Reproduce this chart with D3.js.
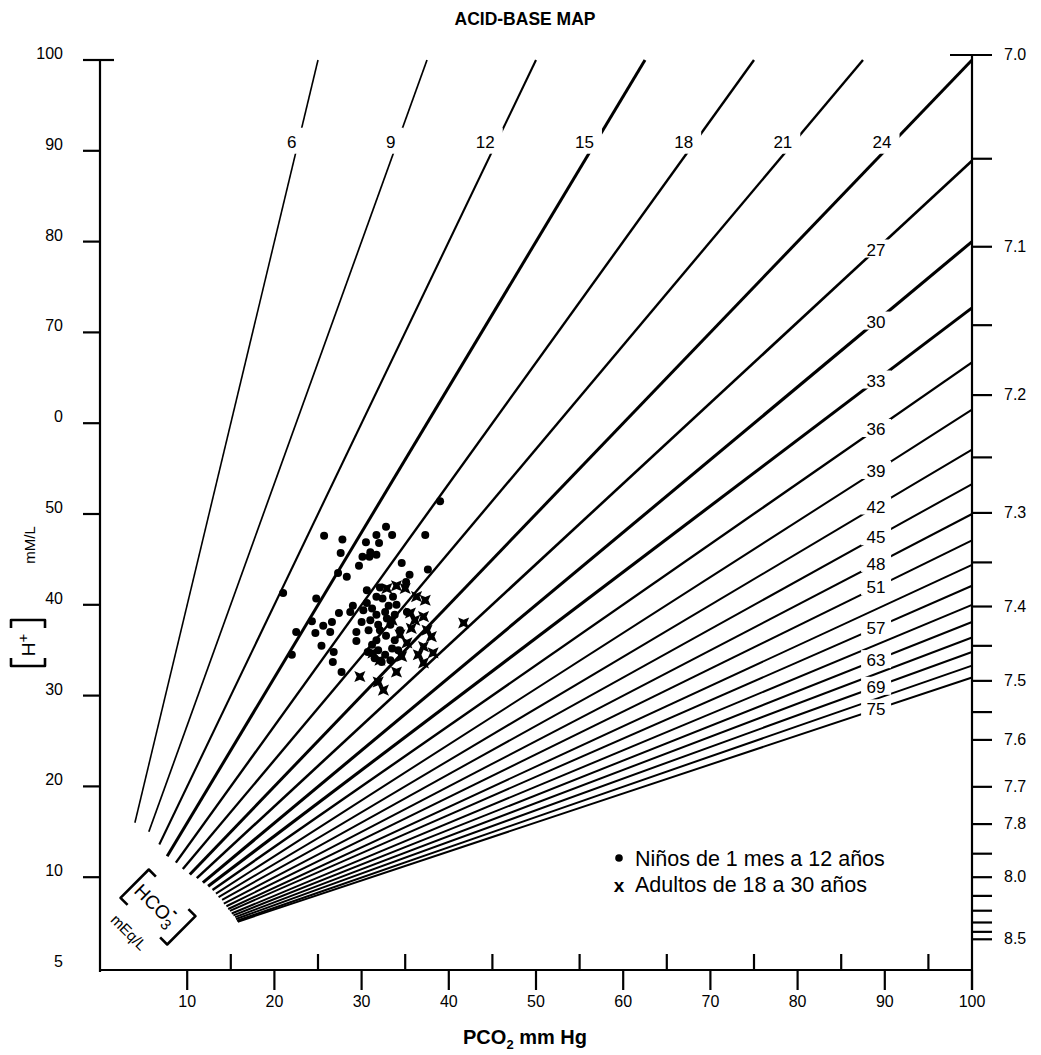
<!DOCTYPE html>
<html>
<head>
<meta charset="utf-8">
<script src="https://cdn.jsdelivr.net/npm/d3@7"></script>
<style>
  body { margin: 0; background: #fff; }
  text { font-family: "Liberation Sans", Arial, sans-serif; fill: #000; }
</style>
</head>
<body>
<script>
// HCO3 isopleths (mEq/L); start and end of each line as [PCO2, H+]
const hco3 = [6, 9, 12, 15, 18, 21, 24, 27, 30, 33, 36, 39, 42, 45, 48, 51, 54, 57, 60, 63, 66, 69, 72, 75];
const lineStart = [[4.0,16.0],[5.6,15.0],[6.8,13.6],[7.7,12.3],[8.7,11.6],[9.5,10.9],[10.3,10.3],[11.1,9.9],
  [11.8,9.4],[12.4,9.0],[12.9,8.6],[13.3,8.2],[13.6,7.8],[14.0,7.5],[14.2,7.1],[14.5,6.8],[14.7,6.5],
  [14.9,6.3],[15.1,6.0],[15.3,5.8],[15.5,5.6],[15.6,5.4],[15.7,5.2],[15.8,5.1]];
const lineEnd = [[25,100],[37.5,100],[50,100],[62.5,100],[75,100],[87.5,100],[100,100],[100,88.9],
  [100,80],[100,72.7],[100,66.7],[100,61.5],[100,57.1],[100,53.3],[100,50],[100,47.1],[100,44.4],
  [100,42.1],[100,40],[100,38.1],[100,36.4],[100,34.8],[100,33.3],[100,32]];
const labelledTop = [6, 9, 12, 15, 18, 21, 24];
const labelledRight = [27, 30, 33, 36, 39, 42, 45, 48, 51, 57, 63, 69, 75];
const strokeW = {6: 1.6, 9: 1.7, 12: 2.1, 15: 3, 18: 2.4, 21: 2.4, 24: 3, 27: 2.6, 30: 3.1, 33: 3.1, 36: 2.4};

// Niños de 1 mes a 12 años  [PCO2, H+]
const ninos = [[39.0,51.4],[32.8,48.6],[33.5,47.7],[25.7,47.6],[27.8,47.2],[31.7,47.7],[30.5,46.9],[32.0,46.8],
  [37.3,47.7],[27.6,45.7],[31.0,45.8],[31.7,45.5],[30.1,45.3],[30.9,45.3],[29.7,44.3],[34.6,44.6],[37.6,43.9],
  [27.3,43.5],[28.3,43.1],[35.5,43.3],[35.1,42.5],[21.0,41.3],[30.6,41.6],[24.8,40.7],[31.7,40.9],[32.4,40.7],
  [33.6,40.9],[29.0,39.9],[30.6,40.2],[33.1,39.9],[34.0,40.0],[27.4,39.1],[28.7,39.2],[30.2,39.4],[31.7,38.9],
  [35.2,39.2],[24.3,38.2],[26.6,38.1],[25.6,37.7],[22.5,37.0],[26.4,37.0],[24.7,36.9],[29.4,37.0],[30.8,37.2],
  [31.9,37.8],[32.9,38.5],[25.4,35.5],[29.4,36.0],[26.8,34.8],[22.0,34.5],[26.7,33.7],[27.7,32.6],[31.2,35.6],
  [31.9,35.0],[32.7,34.5],[33.5,35.2],[31.5,34.1],[32.3,33.7],[30.7,34.8],[33.3,33.9],[34.2,35.0],[33.8,36.1],
  [32.8,36.6],[31.7,36.1],[32.1,37.2],[33.3,37.8],[34.4,37.2],[33.8,38.9],[32.7,39.2],[31.0,38.3],[30.0,38.1],
  [31.2,39.6],[32.1,41.9]];
// Adultos de 18 a 30 años
const adultos = [[32.9,41.8],[34.0,42.1],[35.0,41.8],[36.3,40.9],[37.3,40.5],[41.7,38.0],[37.1,38.7],[35.6,39.1],
  [35.7,37.4],[37.5,37.2],[38.0,36.5],[34.4,36.7],[35.2,35.8],[37.1,35.4],[38.2,34.7],[34.6,34.3],[37.1,33.6],
  [34.0,32.6],[29.8,32.1],[31.9,31.5],[32.5,30.6],[31.3,34.7],[32.1,33.9],[36.1,38.3],[33.5,38.3],[36.5,34.5]];

const xTicks = [10, 20, 30, 40, 50, 60, 70, 80, 90, 100];
const xMinor = [15, 25, 35, 45, 55, 65, 75, 85, 95];
const yTicks = [0, 10, 20, 30, 40, 50, 60, 70, 80, 90, 100];
const yTickLabels = ["5", "10", "20", "30", "40", "50", "0", "70", "80", "90", "100"];
const phTicks = [7.0, 7.05, 7.1, 7.15, 7.2, 7.25, 7.3, 7.35, 7.4, 7.45, 7.5, 7.55, 7.6, 7.7, 7.8, 7.9, 8.0, 8.1, 8.2, 8.3, 8.4, 8.5];
const phLabelled = [7.0, 7.1, 7.2, 7.3, 7.4, 7.5, 7.6, 7.7, 7.8, 8.0, 8.5];

const W = 1041, H = 1055;
const svg = d3.select("body").append("svg").attr("width", W).attr("height", H);

const x = d3.scaleLinear().domain([0, 100]).range([100, 972]);
const y = d3.scaleLinear().domain([0, 100]).range([968, 60]);
const ink = "#000";
const axisY = 970;

// isopleth lines
const line = d3.line().x(d => x(d[0])).y(d => y(d[1]));
const lines = svg.append("g");
hco3.forEach((c, i) => {
  lines.append("path")
    .attr("d", line([lineStart[i], lineEnd[i]]))
    .attr("fill", "none")
    .attr("stroke", ink)
    .attr("stroke-width", strokeW[c] || 2);
});

// point on a line at given H or given PCO2
function atH(i, h) {
  const a = lineStart[i], b = lineEnd[i];
  const t = (h - a[1]) / (b[1] - a[1]);
  return [a[0] + t * (b[0] - a[0]), h];
}
function atP(i, p) {
  const a = lineStart[i], b = lineEnd[i];
  const t = (p - a[0]) / (b[0] - a[0]);
  return [p, a[1] + t * (b[1] - a[1])];
}

// line labels with white gap
const labs = svg.append("g").style("font-size", "17px");
labelledTop.forEach(c => {
  const i = hco3.indexOf(c);
  const p = atH(i, 91);
  const px = x(p[0]), py = y(p[1]);
  const w = String(c).length * 9.5;
  labs.append("rect").attr("x", px - w - 4).attr("y", py - 14).attr("width", w + 10).attr("height", 26).attr("fill", "#fff");
  labs.append("text").attr("x", px - 2).attr("y", py + 6).attr("text-anchor", "end").text(c);
});
labelledRight.forEach(c => {
  const i = hco3.indexOf(c);
  const p = atP(i, 89.0);
  const px = x(p[0]), py = y(p[1]);
  labs.append("rect").attr("x", px - 15).attr("y", py - 10).attr("width", 30).attr("height", 18).attr("fill", "#fff");
  labs.append("text").attr("x", px).attr("y", py + 6).attr("text-anchor", "middle").text(c);
});

// scatter
svg.append("g").selectAll("circle")
  .data(ninos).join("circle")
  .attr("cx", d => x(d[0])).attr("cy", d => y(d[1]))
  .attr("r", 4).attr("fill", ink);

const star4 = {
  draw(ctx, size) {
    const r = Math.sqrt(size) * 0.75, ri = r * 0.4;
    for (let k = 0; k < 8; k++) {
      const a = Math.PI / 4 + k * Math.PI / 4;
      const rr = k % 2 ? ri : r;
      const px = rr * Math.cos(a), py = rr * Math.sin(a);
      if (k === 0) ctx.moveTo(px, py); else ctx.lineTo(px, py);
    }
    ctx.closePath();
  }
};
svg.append("g").selectAll("path")
  .data(adultos).join("path")
  .attr("d", d3.symbol().type(star4).size(110))
  .attr("transform", d => `translate(${x(d[0])},${y(d[1])})`)
  .attr("fill", ink);

// axes frame
const frame = svg.append("g").attr("stroke", ink).attr("stroke-width", 2.2).attr("fill", "none");
frame.append("line").attr("x1", x(0)).attr("x2", x(0)).attr("y1", y(100)).attr("y2", axisY + 2);
frame.append("line").attr("x1", x(0) - 1).attr("x2", x(100) + 1).attr("y1", axisY).attr("y2", axisY);
frame.append("line").attr("x1", x(100)).attr("x2", x(100)).attr("y1", y(100) - 6).attr("y2", axisY + 20);

// bottom ticks
xTicks.forEach(v => frame.append("line").attr("x1", x(v)).attr("x2", x(v)).attr("y1", axisY).attr("y2", axisY + 20));
xMinor.forEach(v => frame.append("line").attr("x1", x(v)).attr("x2", x(v)).attr("y1", axisY).attr("y2", axisY - 16));
svg.append("g").style("font-size", "16px").selectAll("text")
  .data(xTicks).join("text")
  .attr("x", d => x(d)).attr("y", axisY + 37)
  .attr("text-anchor", "middle").text(d => d);

// left ticks
yTicks.forEach(v => {
  if (v === 0) return;
  frame.append("line").attr("x1", x(0) - 17).attr("x2", v === 100 ? x(0) + 14 : x(0)).attr("y1", y(v)).attr("y2", y(v));
});
svg.append("g").style("font-size", "16px").selectAll("text")
  .data(yTicks).join("text")
  .attr("x", 63).attr("y", d => y(d) - 1)
  .attr("text-anchor", "end").text((d, i) => yTickLabels[i]);

// right pH ticks
const yPh = ph => y(Math.pow(10, 9 - ph));
phTicks.forEach(ph => {
  const yy = yPh(ph) - (ph === 7.0 ? 5 : 0);
  frame.append("line").attr("x1", ph === 7.0 ? x(100) - 22 : x(100)).attr("x2", x(100) + 20)
    .attr("y1", yy).attr("y2", yy);
});
svg.append("g").style("font-size", "16px").selectAll("text")
  .data(phLabelled).join("text")
  .attr("x", 1004).attr("y", d => yPh(d) + (d === 7.0 ? 0 : 5))
  .text(d => d.toFixed(1));

// titles
svg.append("text").attr("x", 525).attr("y", 25).attr("text-anchor", "middle")
  .style("font-size", "17.5px").style("font-weight", "bold").text("ACID-BASE MAP");
const xl = svg.append("text").attr("x", 525).attr("y", 1044).attr("text-anchor", "middle")
  .style("font-size", "20px").style("font-weight", "bold");
xl.append("tspan").text("PCO");
xl.append("tspan").attr("dy", 5).style("font-size", "13px").text("2");
xl.append("tspan").attr("dy", -5).text(" mm Hg");

// bracket box helper
function bracketBox(g, w, h, s) {
  g.append("path")
    .attr("d", `M${-w/2 + s},${-h/2} H${-w/2} V${h/2} H${-w/2 + s} M${w/2 - s},${-h/2} H${w/2} V${h/2} H${w/2 - s}`)
    .attr("fill", "none").attr("stroke", ink).attr("stroke-width", 2.6).attr("stroke-linejoin", "round");
}

// y axis label
const hg = svg.append("g").attr("transform", "translate(28,643) rotate(-90)");
bracketBox(hg, 46, 34, 8);
const ht = hg.append("text").attr("x", -2).attr("y", 7).attr("text-anchor", "middle").style("font-size", "19px");
ht.append("tspan").text("H");
ht.append("tspan").attr("dy", -7).style("font-size", "15px").text("+");
svg.append("text").attr("transform", "translate(35,545) rotate(-90)")
  .attr("text-anchor", "middle").style("font-size", "15px").text("mM/L");

// HCO3 box
const bg = svg.append("g").attr("transform", "translate(158,907) rotate(45)");
bracketBox(bg, 66, 40, 10);
const bt = bg.append("text").attr("x", -3).attr("y", 7).attr("text-anchor", "middle").style("font-size", "19px");
bt.append("tspan").text("HCO");
bt.append("tspan").attr("dy", 5).style("font-size", "15px").text("3");
bt.append("tspan").attr("dx", -9).attr("dy", -16).style("font-size", "16px").style("font-weight", "bold").text("-");
svg.append("text").attr("transform", "translate(125,936) rotate(45)")
  .attr("text-anchor", "middle").style("font-size", "15px").text("mEq/L");

// legend
const lg = svg.append("g").style("font-size", "21.5px");
lg.append("circle").attr("cx", 619).attr("cy", 858).attr("r", 3.8).attr("fill", ink);
lg.append("text").attr("x", 635).attr("y", 866).text("Niños de 1 mes a 12 años");
lg.append("text").attr("x", 619).attr("y", 892).attr("text-anchor", "middle").style("font-weight", "bold").style("font-size", "19px").text("x");
lg.append("text").attr("x", 635).attr("y", 892).text("Adultos de 18 a 30 años");
</script>
</body>
</html>
